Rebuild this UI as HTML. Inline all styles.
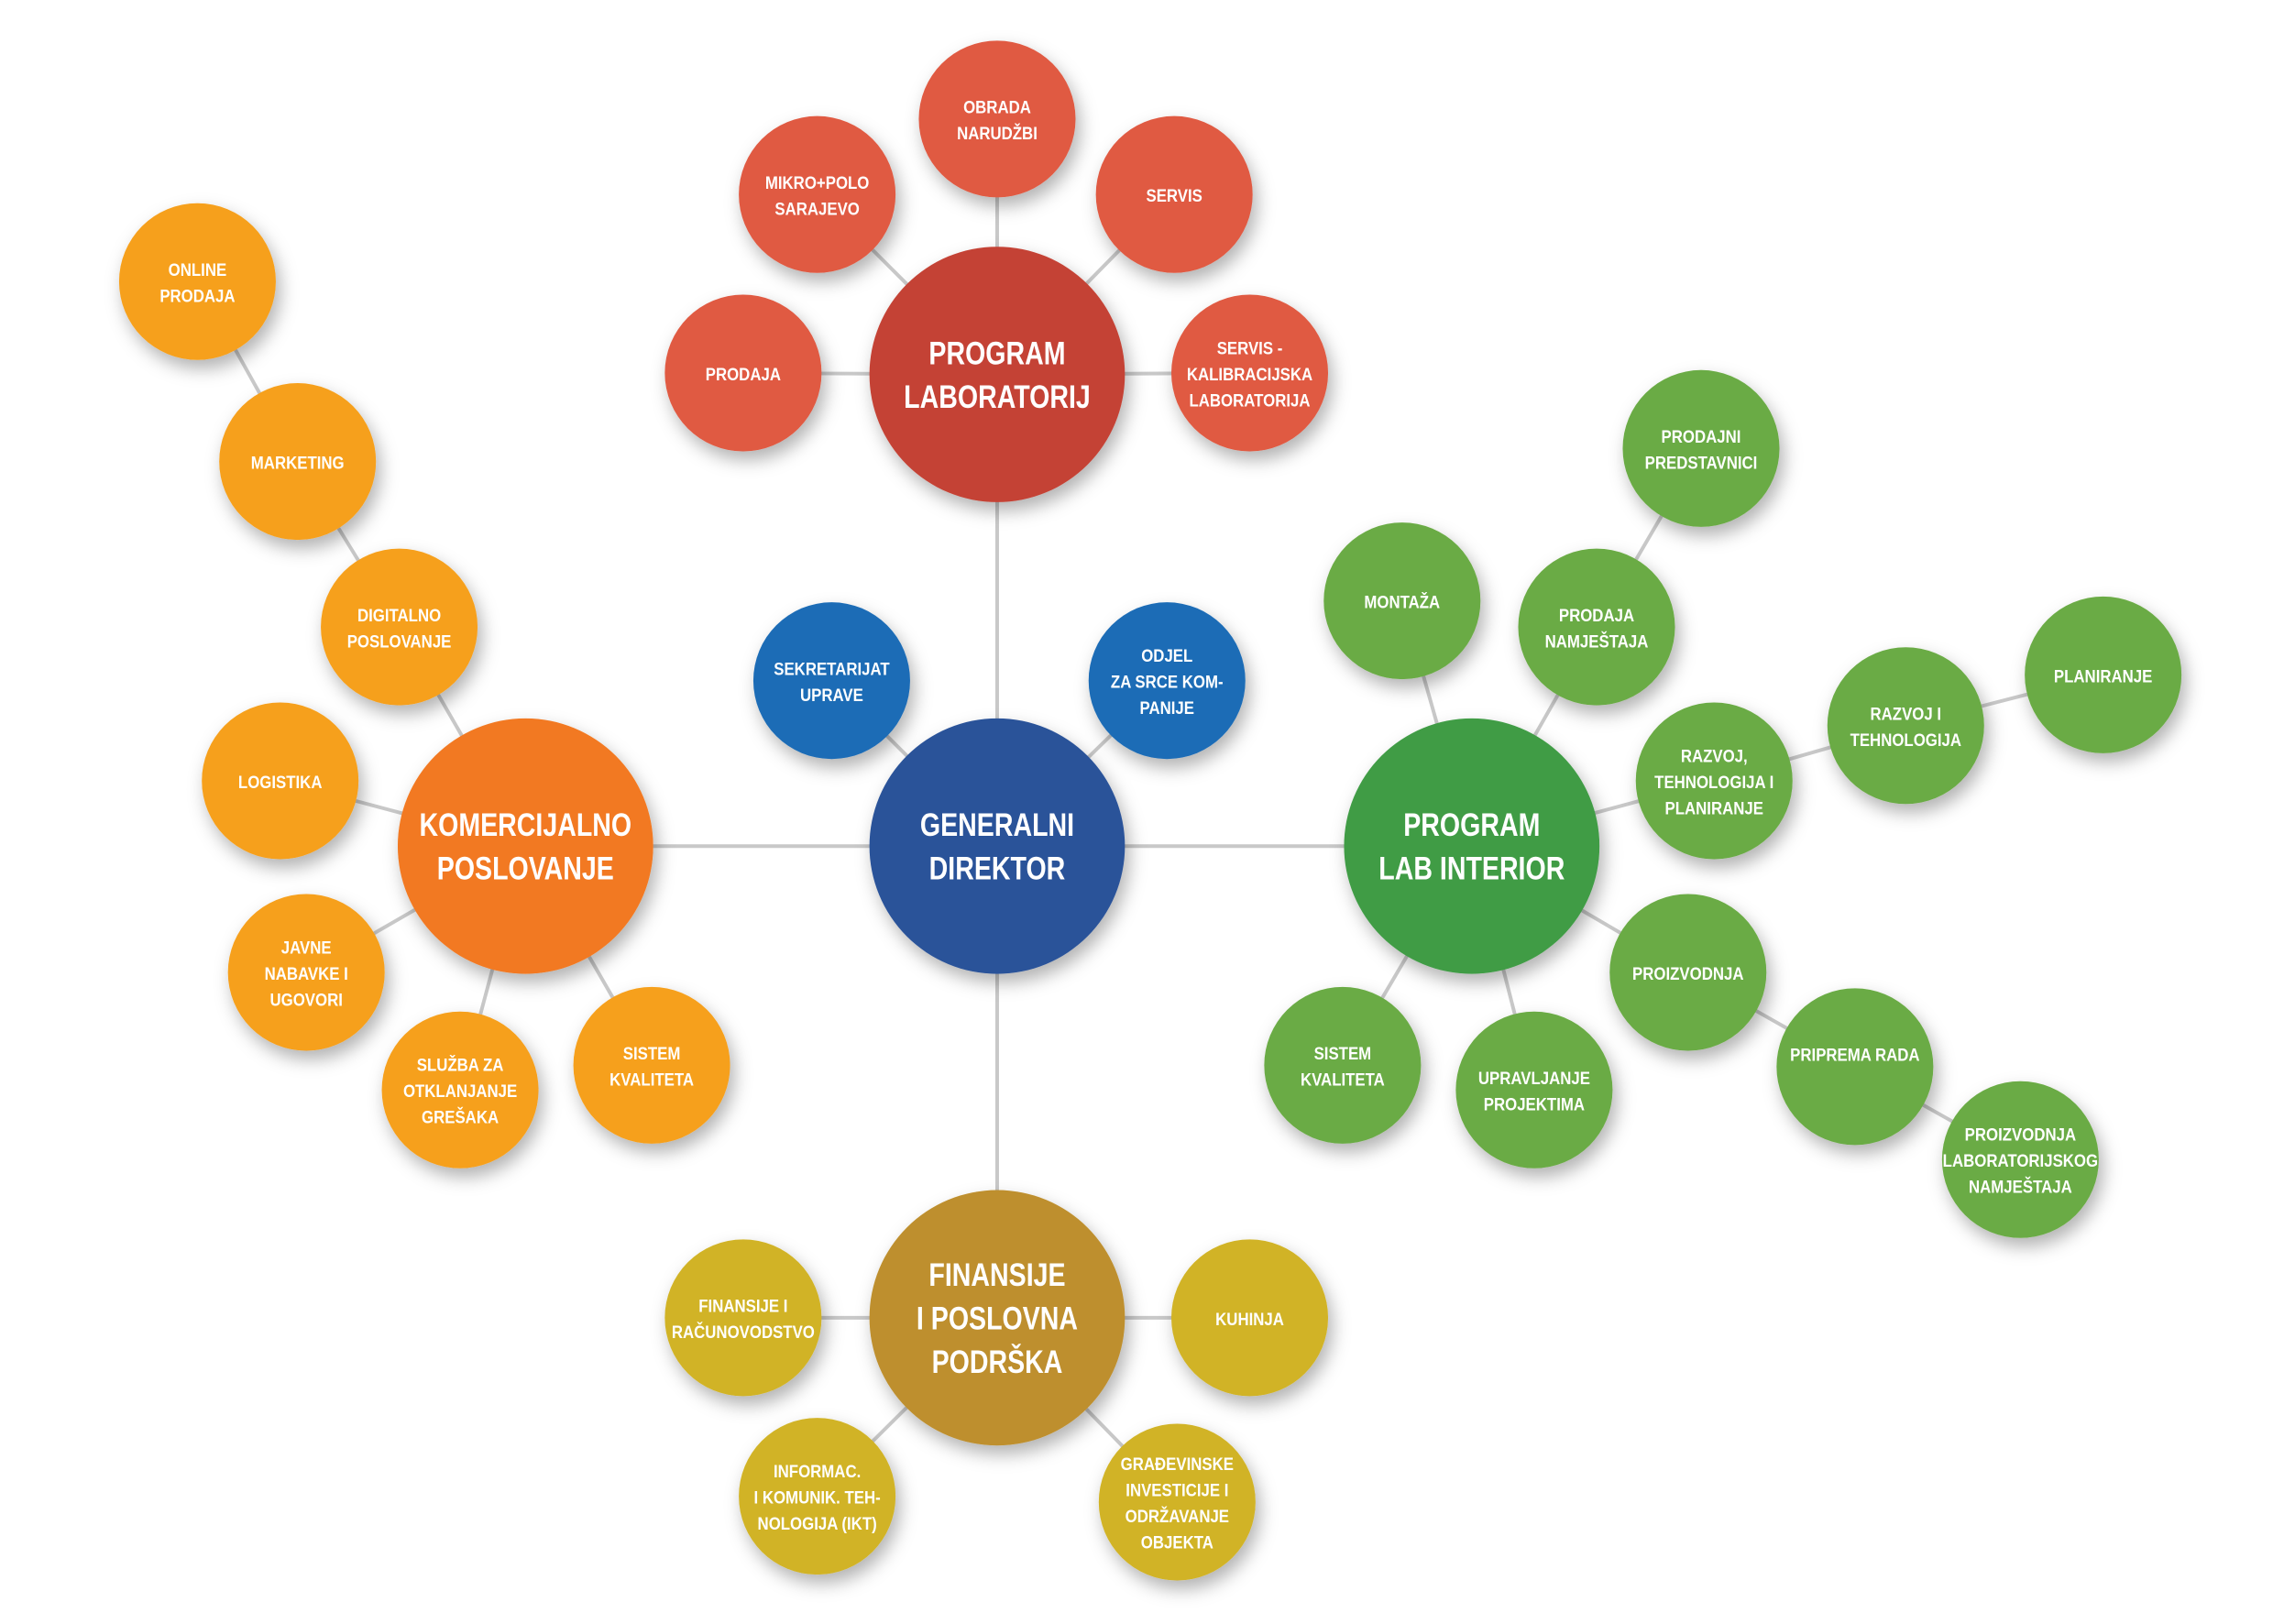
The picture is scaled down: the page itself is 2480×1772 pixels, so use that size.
<!DOCTYPE html>
<html><head><meta charset="utf-8"><style>
html,body{margin:0;padding:0;background:#fff;}
svg{display:block}
text{font-family:"Liberation Sans",sans-serif;font-weight:bold;fill:#fff;text-anchor:middle}
.s{font-size:12.5px}
.b{font-size:22px}
</style></head><body>
<svg width="2480" height="1772" viewBox="0 0 1566 1119" xmlns="http://www.w3.org/2000/svg">
<defs><filter id="sh" x="-30%" y="-30%" width="170%" height="170%"><feDropShadow dx="3" dy="6" stdDeviation="6" flood-color="#000" flood-opacity="0.3"/></filter></defs>
<g stroke="#c8c8c8" stroke-width="2.5">
<line x1="687" y1="583" x2="687" y2="258"/><line x1="687" y1="583" x2="362" y2="583"/><line x1="687" y1="583" x2="1014" y2="583"/><line x1="687" y1="583" x2="687" y2="908"/>
<line x1="687" y1="583" x2="573" y2="469"/><line x1="687" y1="583" x2="804" y2="469"/>
<line x1="687" y1="258" x2="687" y2="82"/><line x1="687" y1="258" x2="563" y2="134"/><line x1="687" y1="258" x2="809" y2="134"/><line x1="687" y1="258" x2="512" y2="257"/><line x1="687" y1="258" x2="861" y2="257"/>
<line x1="136" y1="194" x2="205" y2="318"/><line x1="205" y1="318" x2="275" y2="432"/><line x1="275" y1="432" x2="362" y2="583"/><line x1="362" y1="583" x2="193" y2="538"/><line x1="362" y1="583" x2="211" y2="670"/><line x1="362" y1="583" x2="317" y2="751"/><line x1="362" y1="583" x2="449" y2="734"/>
<line x1="1172" y1="309" x2="1100" y2="432"/><line x1="1100" y1="432" x2="1014" y2="583"/><line x1="1014" y1="583" x2="966" y2="414"/><line x1="1449" y1="465" x2="1313" y2="500"/><line x1="1313" y1="500" x2="1181" y2="538"/><line x1="1181" y1="538" x2="1014" y2="583"/><line x1="1014" y1="583" x2="1163" y2="670"/><line x1="1163" y1="670" x2="1278" y2="735"/><line x1="1278" y1="735" x2="1392" y2="799"/><line x1="1014" y1="583" x2="925" y2="734"/><line x1="1014" y1="583" x2="1057" y2="751"/>
<line x1="687" y1="908" x2="512" y2="908"/><line x1="687" y1="908" x2="861" y2="908"/><line x1="687" y1="908" x2="563" y2="1031"/><line x1="687" y1="908" x2="811" y2="1035"/>
</g>
<g filter="url(#sh)">
<circle cx="687" cy="583" r="88" fill="#2b5299"/>
<circle cx="687" cy="258" r="88" fill="#c44234"/>
<circle cx="362" cy="583" r="88" fill="#f27920"/>
<circle cx="1014" cy="583" r="88" fill="#3f9c45"/>
<circle cx="687" cy="908" r="88" fill="#be8f2e"/>
<g fill="#1d6cb6"><circle cx="573" cy="469" r="54"/><circle cx="804" cy="469" r="54"/></g>
<g fill="#e05a43"><circle cx="687" cy="82" r="54"/><circle cx="563" cy="134" r="54"/><circle cx="809" cy="134" r="54"/><circle cx="512" cy="257" r="54"/><circle cx="861" cy="257" r="54"/></g>
<g fill="#f6a01e"><circle cx="136" cy="194" r="54"/><circle cx="205" cy="318" r="54"/><circle cx="275" cy="432" r="54"/><circle cx="193" cy="538" r="54"/><circle cx="211" cy="670" r="54"/><circle cx="317" cy="751" r="54"/><circle cx="449" cy="734" r="54"/></g>
<g fill="#6bab44"><circle cx="1172" cy="309" r="54"/><circle cx="966" cy="414" r="54"/><circle cx="1100" cy="432" r="54"/><circle cx="1449" cy="465" r="54"/><circle cx="1313" cy="500" r="54"/><circle cx="1181" cy="538" r="54"/><circle cx="1163" cy="670" r="54"/><circle cx="925" cy="734" r="54"/><circle cx="1057" cy="751" r="54"/><circle cx="1278" cy="735" r="54"/><circle cx="1392" cy="799" r="54"/></g>
<g fill="#d1b325"><circle cx="512" cy="908" r="54"/><circle cx="861" cy="908" r="54"/><circle cx="563" cy="1031" r="54"/><circle cx="811" cy="1035" r="54"/></g>
</g>
<!-- big labels -->
<g class="b" transform="translate(687 583) scale(.82 1)"><text y="-7">GENERALNI</text><text y="23">DIREKTOR</text></g>
<g class="b" transform="translate(687 258) scale(.82 1)"><text y="-7">PROGRAM</text><text y="23">LABORATORIJ</text></g>
<g class="b" transform="translate(362 583) scale(.82 1)"><text y="-7">KOMERCIJALNO</text><text y="23">POSLOVANJE</text></g>
<g class="b" transform="translate(1014 583) scale(.82 1)"><text y="-7">PROGRAM</text><text y="23">LAB INTERIOR</text></g>
<g class="b" transform="translate(687 908) scale(.82 1)"><text y="-22">FINANSIJE</text><text y="8">I POSLOVNA</text><text y="38">PODRŠKA</text></g>
<!-- small labels -->
<g class="s" transform="translate(573 469) scale(.85 1)"><text y="-4">SEKRETARIJAT</text><text y="14">UPRAVE</text></g>
<g class="s" transform="translate(804 469) scale(.85 1)"><text y="-13">ODJEL</text><text y="5">ZA SRCE KOM-</text><text y="23">PANIJE</text></g>
<g class="s" transform="translate(687 82) scale(.85 1)"><text y="-4">OBRADA</text><text y="14">NARUDŽBI</text></g>
<g class="s" transform="translate(563 134) scale(.85 1)"><text y="-4">MIKRO+POLO</text><text y="14">SARAJEVO</text></g>
<g class="s" transform="translate(809 134) scale(.85 1)"><text y="5">SERVIS</text></g>
<g class="s" transform="translate(512 257) scale(.85 1)"><text y="5">PRODAJA</text></g>
<g class="s" transform="translate(861 257) scale(.85 1)"><text y="-13">SERVIS -</text><text y="5">KALIBRACIJSKA</text><text y="23">LABORATORIJA</text></g>
<g class="s" transform="translate(136 194) scale(.85 1)"><text y="-4">ONLINE</text><text y="14">PRODAJA</text></g>
<g class="s" transform="translate(205 318) scale(.85 1)"><text y="5">MARKETING</text></g>
<g class="s" transform="translate(275 432) scale(.85 1)"><text y="-4">DIGITALNO</text><text y="14">POSLOVANJE</text></g>
<g class="s" transform="translate(193 538) scale(.85 1)"><text y="5">LOGISTIKA</text></g>
<g class="s" transform="translate(211 670) scale(.85 1)"><text y="-13">JAVNE</text><text y="5">NABAVKE I</text><text y="23">UGOVORI</text></g>
<g class="s" transform="translate(317 751) scale(.85 1)"><text y="-13">SLUŽBA ZA</text><text y="5">OTKLANJANJE</text><text y="23">GREŠAKA</text></g>
<g class="s" transform="translate(449 734) scale(.85 1)"><text y="-4">SISTEM</text><text y="14">KVALITETA</text></g>
<g class="s" transform="translate(1172 309) scale(.85 1)"><text y="-4">PRODAJNI</text><text y="14">PREDSTAVNICI</text></g>
<g class="s" transform="translate(966 414) scale(.85 1)"><text y="5">MONTAŽA</text></g>
<g class="s" transform="translate(1100 432) scale(.85 1)"><text y="-4">PRODAJA</text><text y="14">NAMJEŠTAJA</text></g>
<g class="s" transform="translate(1449 465) scale(.85 1)"><text y="5">PLANIRANJE</text></g>
<g class="s" transform="translate(1313 500) scale(.85 1)"><text y="-4">RAZVOJ I</text><text y="14">TEHNOLOGIJA</text></g>
<g class="s" transform="translate(1181 538) scale(.85 1)"><text y="-13">RAZVOJ,</text><text y="5">TEHNOLOGIJA I</text><text y="23">PLANIRANJE</text></g>
<g class="s" transform="translate(1163 670) scale(.85 1)"><text y="5">PROIZVODNJA</text></g>
<g class="s" transform="translate(925 734) scale(.85 1)"><text y="-4">SISTEM</text><text y="14">KVALITETA</text></g>
<g class="s" transform="translate(1057 751) scale(.85 1)"><text y="-4">UPRAVLJANJE</text><text y="14">PROJEKTIMA</text></g>
<g class="s" transform="translate(1278 735) scale(.85 1)"><text y="-4">PRIPREMA RADA</text></g>
<g class="s" transform="translate(1392 799) scale(.85 1)"><text y="-13">PROIZVODNJA</text><text y="5">LABORATORIJSKOG</text><text y="23">NAMJEŠTAJA</text></g>
<g class="s" transform="translate(512 908) scale(.85 1)"><text y="-4">FINANSIJE I</text><text y="14">RAČUNOVODSTVO</text></g>
<g class="s" transform="translate(861 908) scale(.85 1)"><text y="5">KUHINJA</text></g>
<g class="s" transform="translate(563 1031) scale(.85 1)"><text y="-13">INFORMAC.</text><text y="5">I KOMUNIK. TEH-</text><text y="23">NOLOGIJA (IKT)</text></g>
<g class="s" transform="translate(811 1035) scale(.85 1)"><text y="-22">GRAĐEVINSKE</text><text y="-4">INVESTICIJE I</text><text y="14">ODRŽAVANJE</text><text y="32">OBJEKTA</text></g>
</svg>
</body></html>
